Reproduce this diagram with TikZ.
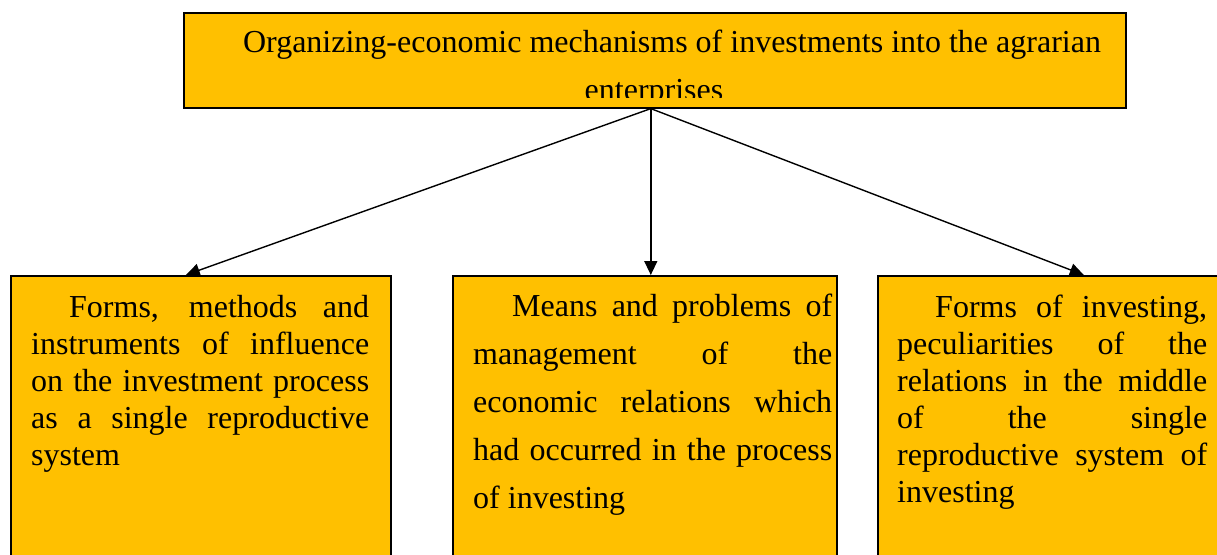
\documentclass[tikz,border=0pt]{standalone}
\usepackage{fontspec}
\setmainfont{Liberation Serif}
\usetikzlibrary{arrows.meta}
\definecolor{boxgold}{RGB}{255,192,0}
\tikzset{
  box/.style={draw, line width=1.6pt, fill=boxgold, inner sep=0pt, anchor=north west},
  txt/.style={inner sep=0pt, anchor=north west, align=justify,
    font=\fontsize{32}{37}\selectfont},
  link/.style={line width=1.4pt, -{Triangle[length=14pt,width=13pt]}}
}
\begin{document}
\begin{tikzpicture}[x=1pt,y=-1pt]
      \clip (0,0) rectangle (1217,554);
      % boxes
      \node[box, minimum width=942pt, minimum height=95pt] (org) at (183,12) {};
      \node[box, minimum width=380pt, minimum height=300pt] (forms) at (10,275) {};
      \node[box, minimum width=384pt, minimum height=300pt] (means) at (452,275) {};
      \node[box, minimum width=360pt, minimum height=300pt] (invest) at (877,275) {};
      % texts
      \begin{scope}
        \clip (183,12) rectangle (1125,97);
        \node[inner sep=0pt, anchor=north, align=center,
          font=\fontsize{32}{47.5}\selectfont] (orgtext) at (654,30)
          {\hspace*{36pt}Organizing-economic mechanisms of investments into the agrarian\\enterprises};
      \end{scope}
      \node[txt, text width=338pt] (formstext) at (31,295)
        {\hspace*{38pt}Forms, methods and\linebreak instruments of influence\linebreak
         on the investment process\linebreak as a single reproductive\linebreak system};
      \node[txt, text width=359pt, font=\fontsize{32}{48}\selectfont] (meanstext) at (473,294)
        {\hspace*{39pt}Means and problems of\linebreak management of the\linebreak
         economic relations which\linebreak had occurred in the process\linebreak of investing};
      \node[txt, text width=310pt] (investtext) at (897,295)
        {\hspace*{38pt}Forms of investing,\linebreak peculiarities of the\linebreak
         relations in the middle\linebreak of the single\linebreak
         reproductive system of\linebreak investing};
      % connectors
      \draw[link] ([xshift=-4pt]org.south) -- ([xshift=-15pt]forms.north);
      \draw[link] ([xshift=-4pt]org.south) -- ([xshift=6pt]means.north);
      \draw[link] ([xshift=-4pt]org.south) -- ([xshift=26pt]invest.north);
    \end{tikzpicture}
\end{document}
